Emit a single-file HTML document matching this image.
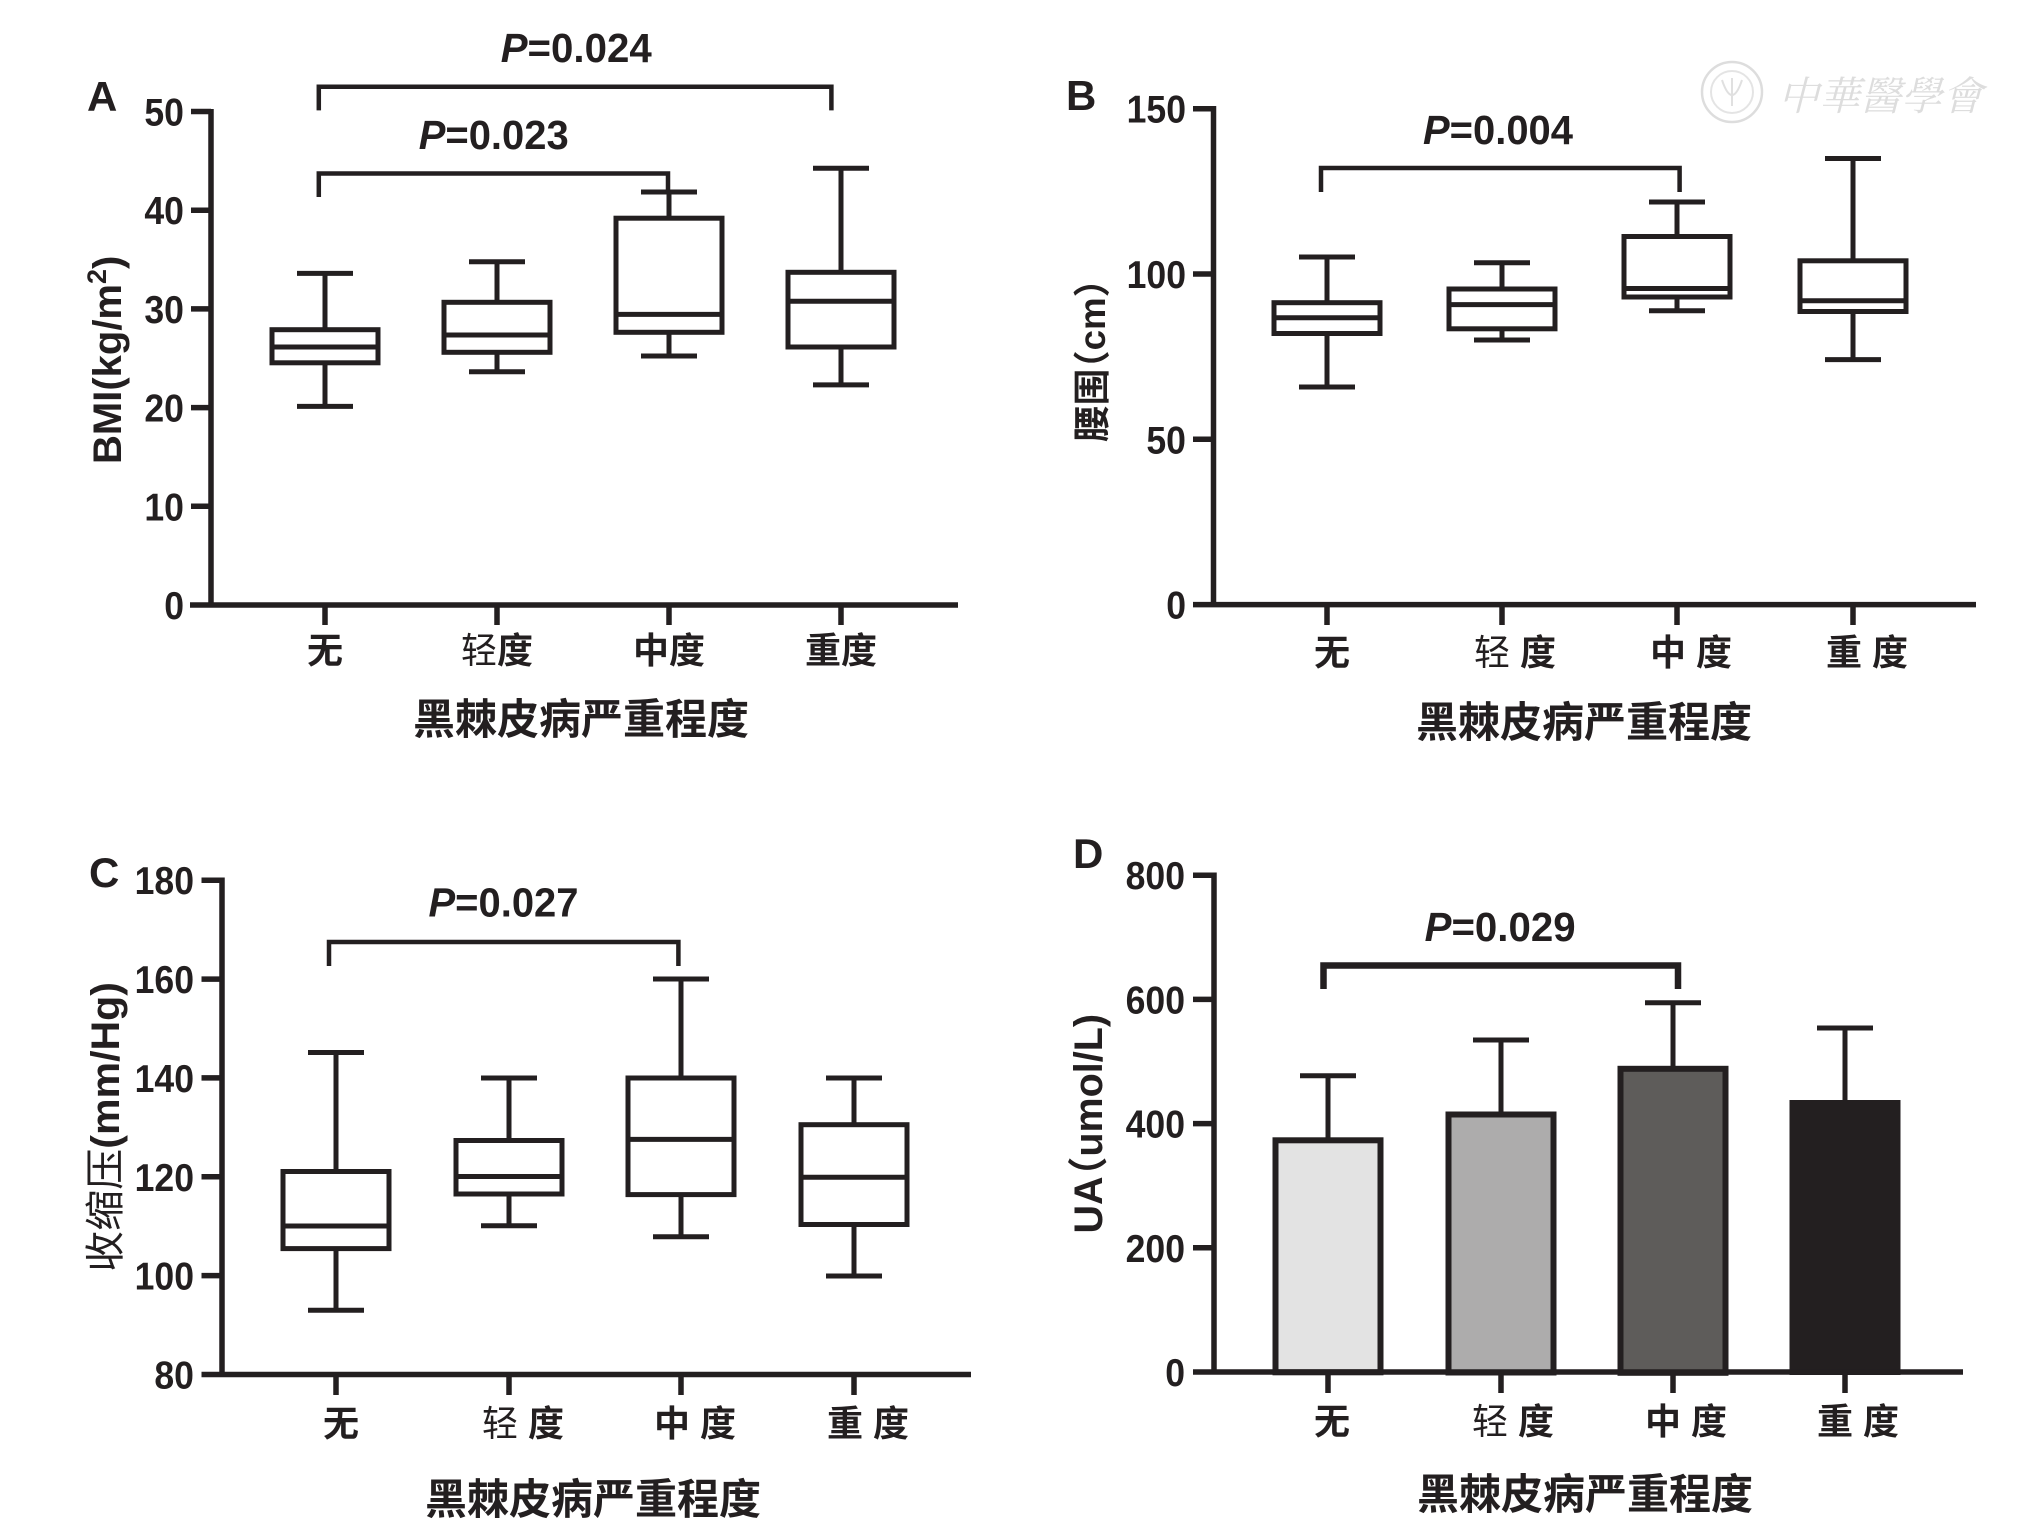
<!DOCTYPE html>
<html><head><meta charset="utf-8"><style>
html,body{margin:0;padding:0;background:#fff;}
svg{display:block;}
.t{font-family:"Liberation Sans","Noto Sans CJK SC",sans-serif;font-weight:700;fill:#231f20;}
.n{font-family:"Liberation Sans","Noto Sans CJK SC",sans-serif;font-weight:700;fill:#231f20;font-size:39px;text-anchor:end;}
.k{font-family:"Liberation Sans","Noto Sans CJK SC",sans-serif;font-weight:700;fill:#231f20;font-size:36px;text-anchor:middle;}
.ti{font-family:"Liberation Sans","Noto Sans CJK SC",sans-serif;font-weight:700;fill:#231f20;font-size:42px;text-anchor:middle;}
.halt{font-feature-settings:"halt";}
</style></head><body>
<svg width="2034" height="1523" viewBox="0 0 2034 1523" xmlns="http://www.w3.org/2000/svg">
<rect width="2034" height="1523" fill="#fff"/>

<!-- watermark -->
<g opacity="0.9">
<circle cx="1732" cy="92" r="30" fill="none" stroke="#dadada" stroke-width="2.5"/>
<circle cx="1732" cy="92" r="21" fill="none" stroke="#e2e2e2" stroke-width="2"/>
<path d="M1722,80 Q1732,110 1742,80 M1732,78 V106" fill="none" stroke="#dddddd" stroke-width="2"/>
<text x="1778" y="110" font-family="Liberation Serif,'Noto Serif CJK SC',serif" font-style="italic" font-size="40" fill="#dadada" textLength="205" lengthAdjust="spacingAndGlyphs">中華醫學會</text>
</g>

<!-- ================= PANEL A ================= -->
<text class="t" x="87" y="111" font-size="42">A</text>
<g stroke="#231f20" stroke-width="5.5" fill="none">
<line x1="211" y1="109" x2="211" y2="607"/>
<line x1="190" y1="605" x2="958" y2="605"/>
<line x1="191" y1="111.5" x2="211" y2="111.5"/>
<line x1="191" y1="210.2" x2="211" y2="210.2"/>
<line x1="191" y1="308.9" x2="211" y2="308.9"/>
<line x1="191" y1="407.6" x2="211" y2="407.6"/>
<line x1="191" y1="506.3" x2="211" y2="506.3"/>
<line x1="325" y1="605" x2="325" y2="625"/>
<line x1="497" y1="605" x2="497" y2="625"/>
<line x1="669" y1="605" x2="669" y2="625"/>
<line x1="841" y1="605" x2="841" y2="625"/>
</g>
<text class="n" x="184" y="125.5" textLength="39.6" lengthAdjust="spacingAndGlyphs">50</text>
<text class="n" x="184" y="224.2" textLength="39.6" lengthAdjust="spacingAndGlyphs">40</text>
<text class="n" x="184" y="322.9" textLength="39.6" lengthAdjust="spacingAndGlyphs">30</text>
<text class="n" x="184" y="421.6" textLength="39.6" lengthAdjust="spacingAndGlyphs">20</text>
<text class="n" x="184" y="520.3" textLength="39.6" lengthAdjust="spacingAndGlyphs">10</text>
<text class="n" x="184" y="619" textLength="19.8" lengthAdjust="spacingAndGlyphs">0</text>
<g transform="translate(121,464) rotate(-90)">
<text class="t" x="0" y="0" font-size="40">BMI(kg/m<tspan dy="-15" font-size="27">2</tspan><tspan dy="15">)</tspan></text>
</g>
<g stroke="#231f20" stroke-width="5" fill="none">
<line x1="325" y1="273.4" x2="325" y2="329.7"/><line x1="325" y1="362.8" x2="325" y2="406.4"/>
<line x1="297" y1="273.4" x2="353" y2="273.4"/><line x1="297" y1="406.4" x2="353" y2="406.4"/>
<rect x="272" y="329.7" width="106" height="33.1"/><line x1="272" y1="347" x2="378" y2="347"/>
<line x1="497" y1="261.8" x2="497" y2="302.3"/><line x1="497" y1="352.3" x2="497" y2="371.7"/>
<line x1="469" y1="261.8" x2="525" y2="261.8"/><line x1="469" y1="371.7" x2="525" y2="371.7"/>
<rect x="444" y="302.3" width="106" height="50"/><line x1="444" y1="335" x2="550" y2="335"/>
<line x1="669" y1="192" x2="669" y2="218.2"/><line x1="669" y1="332.3" x2="669" y2="356"/>
<line x1="641" y1="192" x2="697" y2="192"/><line x1="641" y1="356" x2="697" y2="356"/>
<rect x="616" y="218.2" width="106" height="114.1"/><line x1="616" y1="314.4" x2="722" y2="314.4"/>
<line x1="841" y1="168.2" x2="841" y2="272.3"/><line x1="841" y1="347" x2="841" y2="384.9"/>
<line x1="813" y1="168.2" x2="869" y2="168.2"/><line x1="813" y1="384.9" x2="869" y2="384.9"/>
<rect x="788" y="272.3" width="106" height="74.7"/><line x1="788" y1="301.3" x2="894" y2="301.3"/>
</g>
<g stroke="#231f20" stroke-width="4.5" fill="none">
<path d="M318.8,110.4 V86.7 H831.4 V110.4"/>
<path d="M318.8,197 V173.5 H668 V192"/>
</g>
<text class="t" x="500.7" y="62" font-size="41" textLength="151" lengthAdjust="spacingAndGlyphs"><tspan font-style="italic">P</tspan>=0.024</text>
<text class="t" x="418.7" y="148.8" font-size="41" textLength="150" lengthAdjust="spacingAndGlyphs"><tspan font-style="italic">P</tspan>=0.023</text>
<text class="k" x="325" y="663">无</text>
<text class="k" x="497" y="663"><tspan font-weight="400">轻</tspan>度</text>
<text class="k" x="669" y="663">中度</text>
<text class="k" x="841" y="663">重度</text>
<text class="ti" x="581" y="734">黑棘皮病严重程度</text>

<!-- ================= PANEL B ================= -->
<text class="t" x="1066" y="110" font-size="42">B</text>
<g stroke="#231f20" stroke-width="5.5" fill="none">
<line x1="1213.5" y1="106" x2="1213.5" y2="607"/>
<line x1="1193" y1="604.6" x2="1976" y2="604.6"/>
<line x1="1193" y1="108.7" x2="1213.5" y2="108.7"/>
<line x1="1193" y1="274" x2="1213.5" y2="274"/>
<line x1="1193" y1="439.3" x2="1213.5" y2="439.3"/>
<line x1="1327" y1="604.6" x2="1327" y2="625"/>
<line x1="1502" y1="604.6" x2="1502" y2="625"/>
<line x1="1677" y1="604.6" x2="1677" y2="625"/>
<line x1="1853" y1="604.6" x2="1853" y2="625"/>
</g>
<text class="n" x="1186" y="122.7" textLength="59.4" lengthAdjust="spacingAndGlyphs">150</text>
<text class="n" x="1186" y="288" textLength="59.4" lengthAdjust="spacingAndGlyphs">100</text>
<text class="n" x="1186" y="453.3" textLength="39.6" lengthAdjust="spacingAndGlyphs">50</text>
<text class="n" x="1186" y="618.6" textLength="19.8" lengthAdjust="spacingAndGlyphs">0</text>
<g transform="translate(1105,442) rotate(-90)">
<text class="t halt" x="0" y="0" font-size="37" textLength="163" lengthAdjust="spacingAndGlyphs">腰围（cm）</text>
</g>
<g stroke="#231f20" stroke-width="5" fill="none">
<line x1="1327" y1="257" x2="1327" y2="302.7"/><line x1="1327" y1="333.5" x2="1327" y2="387"/>
<line x1="1299" y1="257" x2="1355" y2="257"/><line x1="1299" y1="387" x2="1355" y2="387"/>
<rect x="1274" y="302.7" width="106" height="30.8"/><line x1="1274" y1="317.7" x2="1380" y2="317.7"/>
<line x1="1502" y1="262.7" x2="1502" y2="289"/><line x1="1502" y1="328.8" x2="1502" y2="340"/>
<line x1="1474" y1="262.7" x2="1530" y2="262.7"/><line x1="1474" y1="340" x2="1530" y2="340"/>
<rect x="1449" y="289" width="106" height="39.8"/><line x1="1449" y1="304.6" x2="1555" y2="304.6"/>
<line x1="1677" y1="202" x2="1677" y2="236.5"/><line x1="1677" y1="297" x2="1677" y2="310.8"/>
<line x1="1649" y1="202" x2="1705" y2="202"/><line x1="1649" y1="310.8" x2="1705" y2="310.8"/>
<rect x="1624" y="236.5" width="106" height="60.5"/><line x1="1624" y1="288.5" x2="1730" y2="288.5"/>
<line x1="1853" y1="158.5" x2="1853" y2="260.8"/><line x1="1853" y1="311.5" x2="1853" y2="359.6"/>
<line x1="1825" y1="158.5" x2="1881" y2="158.5"/><line x1="1825" y1="359.6" x2="1881" y2="359.6"/>
<rect x="1800" y="260.8" width="106" height="50.7"/><line x1="1800" y1="300.8" x2="1906" y2="300.8"/>
</g>
<path d="M1321,192 V168 H1679.6 V192" stroke="#231f20" stroke-width="4.5" fill="none"/>
<text class="t" x="1423" y="144" font-size="41" textLength="150" lengthAdjust="spacingAndGlyphs"><tspan font-style="italic">P</tspan>=0.004</text>
<text class="k" x="1332" y="665">无</text>
<text class="k" x="1515" y="665"><tspan font-weight="400">轻</tspan> 度</text>
<text class="k" x="1691" y="665">中 度</text>
<text class="k" x="1867" y="665">重 度</text>
<text class="ti" x="1584" y="737">黑棘皮病严重程度</text>

<!-- ================= PANEL C ================= -->
<text class="t" x="89" y="887" font-size="42">C</text>
<g stroke="#231f20" stroke-width="5.5" fill="none">
<line x1="222" y1="877.5" x2="222" y2="1377"/>
<line x1="201.5" y1="1374.5" x2="971" y2="1374.5"/>
<line x1="201.5" y1="880.2" x2="222" y2="880.2"/>
<line x1="201.5" y1="979.1" x2="222" y2="979.1"/>
<line x1="201.5" y1="1077.9" x2="222" y2="1077.9"/>
<line x1="201.5" y1="1176.8" x2="222" y2="1176.8"/>
<line x1="201.5" y1="1275.6" x2="222" y2="1275.6"/>
<line x1="336" y1="1374.5" x2="336" y2="1395"/>
<line x1="509" y1="1374.5" x2="509" y2="1395"/>
<line x1="681" y1="1374.5" x2="681" y2="1395"/>
<line x1="854" y1="1374.5" x2="854" y2="1395"/>
</g>
<text class="n" x="194" y="894.2" textLength="59.4" lengthAdjust="spacingAndGlyphs">180</text>
<text class="n" x="194" y="993.1" textLength="59.4" lengthAdjust="spacingAndGlyphs">160</text>
<text class="n" x="194" y="1091.9" textLength="59.4" lengthAdjust="spacingAndGlyphs">140</text>
<text class="n" x="194" y="1190.8" textLength="59.4" lengthAdjust="spacingAndGlyphs">120</text>
<text class="n" x="194" y="1289.6" textLength="59.4" lengthAdjust="spacingAndGlyphs">100</text>
<text class="n" x="194" y="1388.5" textLength="39.6" lengthAdjust="spacingAndGlyphs">80</text>
<g transform="translate(119,1272) rotate(-90)">
<text class="t" x="0" y="0" font-size="40" textLength="290" lengthAdjust="spacingAndGlyphs"><tspan font-weight="400">收缩压</tspan>(mm/Hg)</text>
</g>
<g stroke="#231f20" stroke-width="5" fill="none">
<line x1="336" y1="1052.5" x2="336" y2="1171.5"/><line x1="336" y1="1248.6" x2="336" y2="1310.2"/>
<line x1="308" y1="1052.5" x2="364" y2="1052.5"/><line x1="308" y1="1310.2" x2="364" y2="1310.2"/>
<rect x="283" y="1171.5" width="106" height="77.1"/><line x1="283" y1="1226" x2="389" y2="1226"/>
<line x1="509" y1="1078" x2="509" y2="1140.5"/><line x1="509" y1="1194" x2="509" y2="1225.7"/>
<line x1="481" y1="1078" x2="537" y2="1078"/><line x1="481" y1="1225.7" x2="537" y2="1225.7"/>
<rect x="456" y="1140.5" width="106" height="53.5"/><line x1="456" y1="1176.5" x2="562" y2="1176.5"/>
<line x1="681" y1="979" x2="681" y2="1078"/><line x1="681" y1="1194.6" x2="681" y2="1236.7"/>
<line x1="653" y1="979" x2="709" y2="979"/><line x1="653" y1="1236.7" x2="709" y2="1236.7"/>
<rect x="628" y="1078" width="106" height="116.6"/><line x1="628" y1="1139.4" x2="734" y2="1139.4"/>
<line x1="854" y1="1078" x2="854" y2="1124.7"/><line x1="854" y1="1224.5" x2="854" y2="1276"/>
<line x1="826" y1="1078" x2="882" y2="1078"/><line x1="826" y1="1276" x2="882" y2="1276"/>
<rect x="801" y="1124.7" width="106" height="99.8"/><line x1="801" y1="1177.2" x2="907" y2="1177.2"/>
</g>
<path d="M329,966 V942 H678.4 V966" stroke="#231f20" stroke-width="4.5" fill="none"/>
<text class="t" x="428.5" y="916.5" font-size="41" textLength="150" lengthAdjust="spacingAndGlyphs"><tspan font-style="italic">P</tspan>=0.027</text>
<text class="k" x="341" y="1436">无</text>
<text class="k" x="523" y="1436"><tspan font-weight="400">轻</tspan> 度</text>
<text class="k" x="695" y="1436">中 度</text>
<text class="k" x="868" y="1436">重 度</text>
<text class="ti" x="593" y="1514">黑棘皮病严重程度</text>

<!-- ================= PANEL D ================= -->
<text class="t" x="1073" y="868" font-size="42">D</text>
<g stroke="#231f20" stroke-width="6">
<rect x="1275.5" y="1140.3" width="105" height="232" fill="#e3e3e3"/>
<rect x="1448.5" y="1114.5" width="105" height="258" fill="#adacac"/>
<rect x="1620.5" y="1068.8" width="105" height="304" fill="#5e5c5a"/>
<rect x="1792.5" y="1103" width="105" height="269" fill="#231f20"/>
</g>
<g stroke="#231f20" stroke-width="5" fill="none">
<line x1="1328" y1="1138" x2="1328" y2="1075.8"/><line x1="1300" y1="1075.8" x2="1356" y2="1075.8"/>
<line x1="1501" y1="1112" x2="1501" y2="1040"/><line x1="1473" y1="1040" x2="1529" y2="1040"/>
<line x1="1673" y1="1066" x2="1673" y2="1002.7"/><line x1="1645" y1="1002.7" x2="1701" y2="1002.7"/>
<line x1="1845" y1="1100" x2="1845" y2="1028"/><line x1="1817" y1="1028" x2="1873" y2="1028"/>
</g>
<g stroke="#231f20" stroke-width="5.5" fill="none">
<line x1="1214" y1="872.5" x2="1214" y2="1374.5"/>
<line x1="1193" y1="1372" x2="1963" y2="1372"/>
<line x1="1193" y1="875.2" x2="1214" y2="875.2"/>
<line x1="1193" y1="999.4" x2="1214" y2="999.4"/>
<line x1="1193" y1="1123.6" x2="1214" y2="1123.6"/>
<line x1="1193" y1="1247.8" x2="1214" y2="1247.8"/>
<line x1="1328" y1="1372" x2="1328" y2="1393"/>
<line x1="1501" y1="1372" x2="1501" y2="1393"/>
<line x1="1673" y1="1372" x2="1673" y2="1393"/>
<line x1="1845" y1="1372" x2="1845" y2="1393"/>
</g>
<text class="n" x="1185" y="889.2" textLength="59.4" lengthAdjust="spacingAndGlyphs">800</text>
<text class="n" x="1185" y="1013.4" textLength="59.4" lengthAdjust="spacingAndGlyphs">600</text>
<text class="n" x="1185" y="1137.6" textLength="59.4" lengthAdjust="spacingAndGlyphs">400</text>
<text class="n" x="1185" y="1261.8" textLength="59.4" lengthAdjust="spacingAndGlyphs">200</text>
<text class="n" x="1185" y="1386" textLength="19.8" lengthAdjust="spacingAndGlyphs">0</text>
<g transform="translate(1102,1233.5) rotate(-90)">
<text class="t halt" x="0" y="0" font-size="40" textLength="219.5" lengthAdjust="spacingAndGlyphs">UA（umol/L)</text>
</g>
<path d="M1323.5,989 V965.5 H1678 V989" stroke="#231f20" stroke-width="6.5" fill="none"/>
<text class="t" x="1424.6" y="941" font-size="41" textLength="151" lengthAdjust="spacingAndGlyphs"><tspan font-style="italic">P</tspan>=0.029</text>
<text class="k" x="1332" y="1434">无</text>
<text class="k" x="1513" y="1434"><tspan font-weight="400">轻</tspan> 度</text>
<text class="k" x="1686" y="1434">中 度</text>
<text class="k" x="1858" y="1434">重 度</text>
<text class="ti" x="1585" y="1509">黑棘皮病严重程度</text>
</svg>
</body></html>
